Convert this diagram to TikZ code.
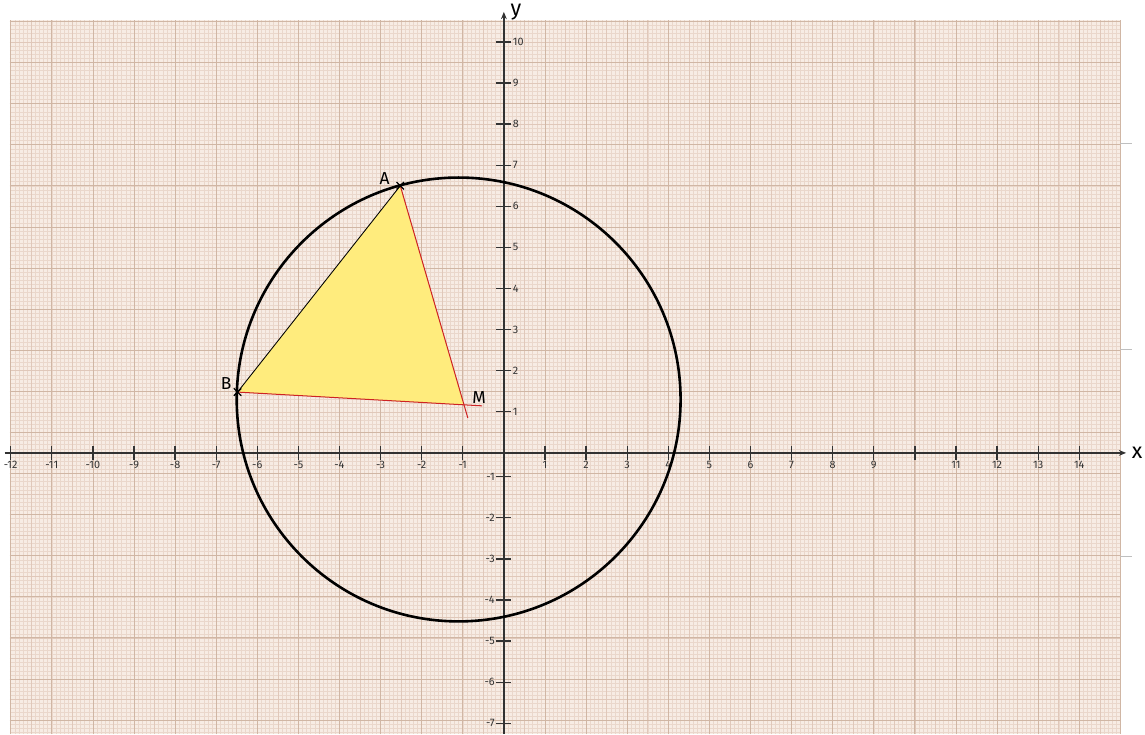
\documentclass[tikz,border=0pt]{standalone}
\usepackage{fontspec}
\setmainfont{Fira Sans}
\usepackage{tikz}
\usetikzlibrary{arrows.meta,calc}
\definecolor{paper}{RGB}{247,236,228}
\definecolor{gridfine}{RGB}{234,215,203}
\definecolor{gridmid}{RGB}{224,200,186}
\definecolor{gridmaj}{RGB}{208,182,164}
\definecolor{axisgray}{RGB}{50,50,50}
\definecolor{triyellow}{RGB}{255,236,125}
\definecolor{segred}{RGB}{205,35,35}

\begin{document}
\begin{tikzpicture}[
  tickmark/.style={line width=0.9pt,draw=axisgray},
  ticklab/.style={font=\fontsize{7.5}{8}\selectfont,text=axisgray,inner sep=1pt},
  ptlab/.style={font=\fontsize{12}{14}\selectfont,inner sep=1pt},
  axlab/.style={font=\fontsize{15}{17}\selectfont,inner sep=1pt},
  crossmark/.style={line width=0.9pt,draw=black}]
  \useasboundingbox[fill=white] (-12.26,-6.84) rectangle (15.60,11.02);

  % graph paper
  \fill[paper] (-12.02,-6.84) rectangle (15,10.53);
  \begin{scope}[shift={(0,0.5)}]
    \draw[gridfine,line width=0.3pt,step=0.1] (-12.02,-7.34) grid (15,10.03);
    \draw[gridmid,line width=0.4pt,step=0.5] (-12.02,-7.34) grid (15,10.03);
    \draw[gridmaj,line width=0.5pt,step=1] (-12.02,-7.34) grid (15,10.03);
  \end{scope}
  \foreach \m in {7.53,2.52,-2.52}
    \draw[gray!50,line width=0.5pt] (15,\m) -- (15.28,\m);

  % axes
  \coordinate (O) at (0,0);
  \draw[axisgray,line width=1.1pt,-{Stealth[length=5pt,width=4pt]}] (-12.15,0) -- (15.14,0) coordinate (xend);
  \draw[axisgray,line width=1.1pt,-{Stealth[length=5pt,width=4pt]}] (0,-6.84) -- (0,10.73) coordinate (yend);
  \node[axlab,anchor=west] (xname) at ($(xend)+(0.1,0)$) {x};
  \node[axlab,anchor=west] (yname) at ($(yend)+(0.12,0)$) {y};

  \foreach \i in {-12,...,-1,1,2,...,9,11,12,13,14}{
    \draw[tickmark] (\i,-0.17) -- (\i,0.17);
    \node[ticklab,anchor=north] (xl\i) at (\i,-0.17) {\i};
  }
  \draw[tickmark] (10,-0.17) -- (10,0.17);
  \foreach \j in {1,...,10}{
    \draw[tickmark] (-0.18,\j) -- (0.18,\j);
    \node[ticklab,anchor=west] (yl\j) at (0.18,\j) {\j};
  }
  \foreach \j in {1,...,7}{
    \draw[tickmark] (-0.18,-\j+0.42) -- (0.18,-\j+0.42);
    \node[ticklab,anchor=east] (ylm\j) at (-0.18,-\j+0.42) {-\j};
  }

  % figure
  \coordinate (C) at (-1.1,1.3);
  \coordinate (A) at (-2.52,6.5);
  \coordinate (B) at (-6.48,1.48);
  \coordinate (M) at (-0.97,1.17);
  \fill[triyellow] (A) -- (B) -- (M) -- cycle;
  \draw[black,line width=0.6pt] (A) -- (B);
  \draw[segred,line width=0.7pt] (B) -- (M) -- ($(B)!1.08!(M)$);
  \draw[segred,line width=0.7pt] (A) -- (M) -- ($(A)!1.06!(M)$);
  \draw[black,line width=1.8pt] (C) circle (5.4);

  \draw[crossmark] ($(A)+(-0.09,-0.09)$) -- ($(A)+(0.09,0.09)$) ($(A)+(-0.09,0.09)$) -- ($(A)+(0.09,-0.09)$);
  \draw[crossmark] ($(B)+(-0.09,-0.09)$) -- ($(B)+(0.09,0.09)$) ($(B)+(-0.09,0.09)$) -- ($(B)+(0.09,-0.09)$);

  \node[ptlab] (Alab) at (-2.9,6.68) {A};
  \node[ptlab] (Blab) at (-6.76,1.68) {B};
  \node[ptlab] (Mlab) at (-0.6,1.35) {M};
\end{tikzpicture}
\end{document}
